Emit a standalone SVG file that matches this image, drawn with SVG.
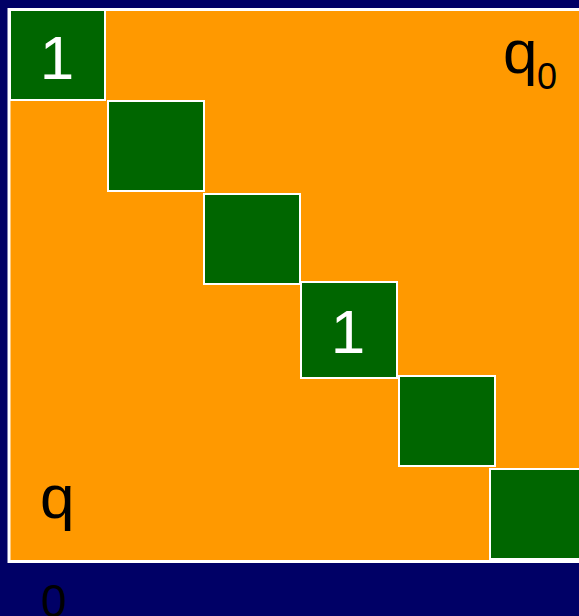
<svg xmlns="http://www.w3.org/2000/svg" width="579" height="616" viewBox="0 0 579 616">
<style>
.cell{fill:#006600;stroke:#ffffff;stroke-width:2}
.one{font-family:"Liberation Sans",Arial,sans-serif;font-size:62px;fill:#ffffff;text-anchor:middle}
.lbl{font-family:"Liberation Sans",Arial,sans-serif;fill:#000000}
</style>
<rect x="0" y="0" width="579" height="616" fill="#000066"/>
<g id="matrix">
<rect x="9" y="9.5" width="575" height="552" fill="#FF9900" stroke="#ffffff" stroke-width="3"/>
</g>
<g id="cell1"><rect class="cell" x="10" y="10" width="95" height="90"/><text class="one" x="57" y="79">1</text></g>
<g id="cell2"><rect class="cell" x="108" y="101" width="96" height="90"/></g>
<g id="cell3"><rect class="cell" x="204" y="194" width="96" height="90"/></g>
<g id="cell4"><rect class="cell" x="301" y="282" width="96" height="96"/><text class="one" x="348" y="353">1</text></g>
<g id="cell5"><rect class="cell" x="399" y="376" width="96" height="90"/></g>
<g id="cell6"><rect class="cell" x="490" y="469" width="95" height="90"/></g>
<g id="label-top"><text class="lbl" x="503" y="73" font-size="62">q</text><text class="lbl" x="537" y="89" font-size="36">0</text></g>
<g id="label-bottom"><text class="lbl" x="40" y="518" font-size="62">q</text><text class="lbl" x="41" y="617" font-size="46">0</text></g>
</svg>
